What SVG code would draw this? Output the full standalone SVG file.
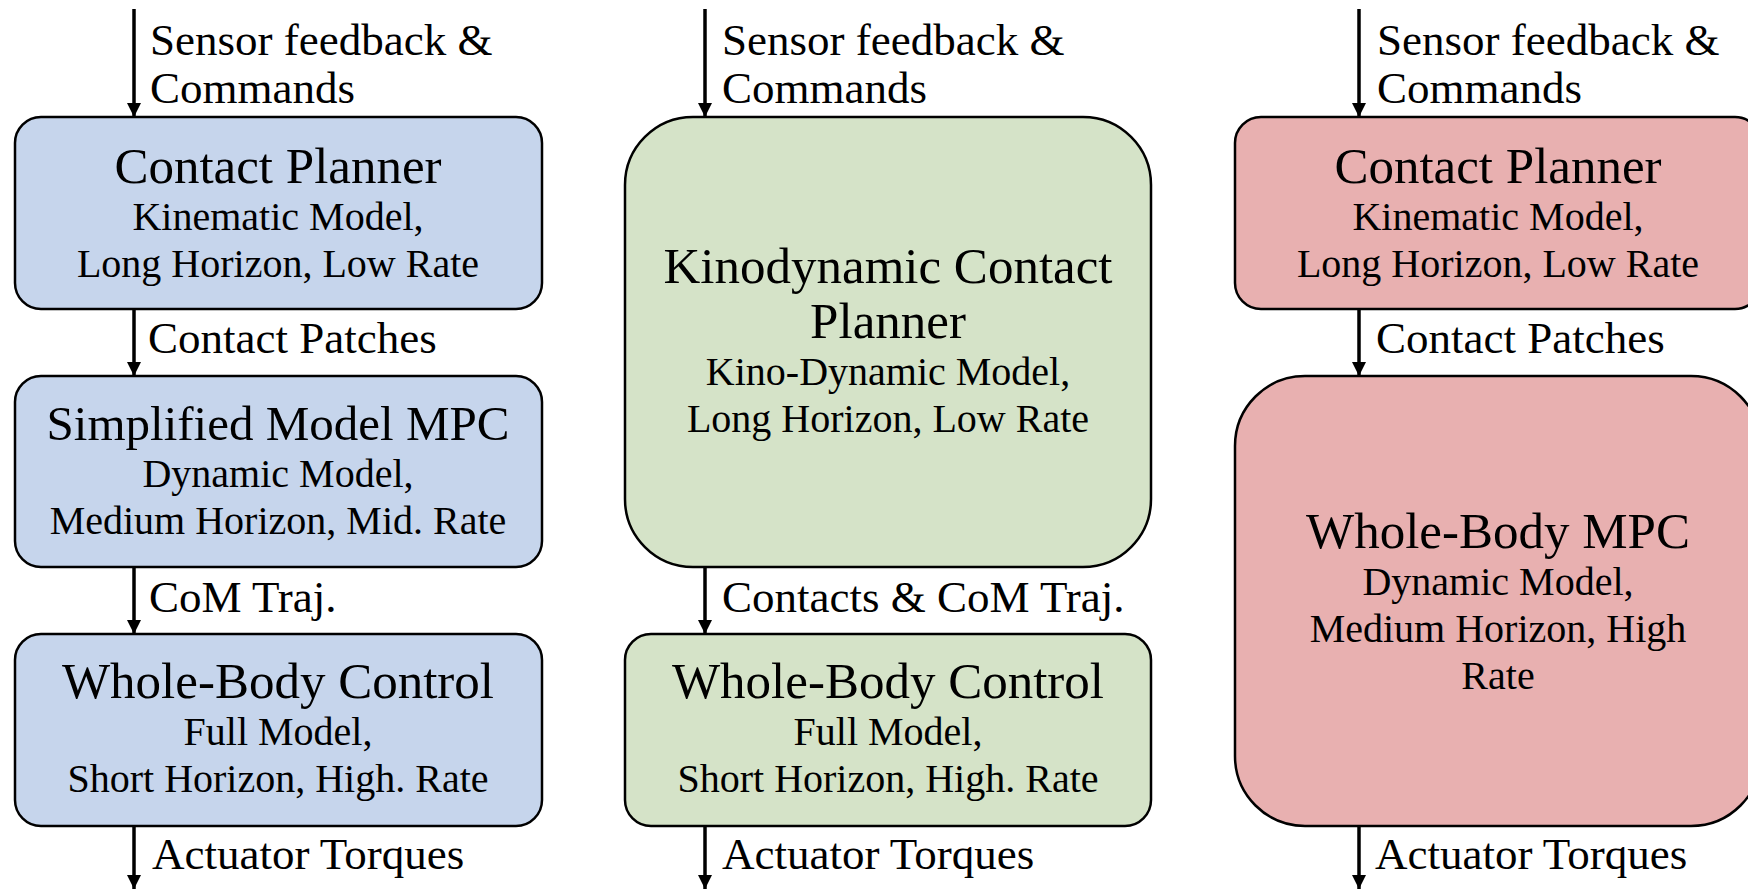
<svg xmlns="http://www.w3.org/2000/svg" width="1748" height="889" viewBox="0 0 1748 889">
<style>
text{font-family:"Liberation Serif","Times New Roman",serif;fill:#000}
.t{font-size:51px;text-anchor:middle}
.s{font-size:40px;text-anchor:middle}
.e{font-size:45px}
.box{stroke:#000;stroke-width:2.5}
.blue{fill:#c6d5ec}
.green{fill:#d5e3c8}
.red{fill:#e8b0b0}
.arr{stroke:#000;stroke-width:3.5;fill:none;marker-end:url(#ah)}
</style>
<defs>
<marker id="ah" markerUnits="userSpaceOnUse" markerWidth="16" markerHeight="16" refX="14" refY="7" orient="auto">
<path d="M0,0 L14,7 L0,14 Z" fill="#000"/>
</marker>
</defs>
<rect width="1748" height="889" fill="#fff"/>
<g id="connectors">
<line class="arr" x1="134" y1="9" x2="134" y2="117"/>
<line class="arr" x1="134" y1="309" x2="134" y2="376"/>
<line class="arr" x1="134" y1="567" x2="134" y2="634"/>
<line class="arr" x1="134" y1="826" x2="134" y2="889"/>
<line class="arr" x1="705" y1="9" x2="705" y2="117"/>
<line class="arr" x1="705" y1="567" x2="705" y2="634"/>
<line class="arr" x1="705" y1="826" x2="705" y2="889"/>
<line class="arr" x1="1359" y1="9" x2="1359" y2="117"/>
<line class="arr" x1="1359" y1="309" x2="1359" y2="376"/>
<line class="arr" x1="1359" y1="826" x2="1359" y2="889"/>
<text class="e" x="150" y="55">Sensor feedback &amp;</text>
<text class="e" x="150" y="103">Commands</text>
<text class="e" x="148" y="353">Contact Patches</text>
<text class="e" x="149" y="612">CoM Traj.</text>
<text class="e" x="152" y="869">Actuator Torques</text>
<text class="e" x="722" y="55">Sensor feedback &amp;</text>
<text class="e" x="722" y="103">Commands</text>
<text class="e" x="722" y="612">Contacts &amp; CoM Traj.</text>
<text class="e" x="722" y="869">Actuator Torques</text>
<text class="e" x="1377" y="55">Sensor feedback &amp;</text>
<text class="e" x="1377" y="103">Commands</text>
<text class="e" x="1376" y="353">Contact Patches</text>
<text class="e" x="1375" y="869">Actuator Torques</text>
</g>
<g id="a_contact_planner">
<rect class="box blue" x="15" y="117" width="527" height="192" rx="26"/>
<text class="t" x="278" y="183">Contact Planner</text>
<text class="s" x="278" y="230">Kinematic Model,</text>
<text class="s" x="278" y="277">Long Horizon, Low Rate</text>
</g>
<g id="a_simplified_mpc">
<rect class="box blue" x="15" y="376" width="527" height="191" rx="26"/>
<text class="t" x="278" y="440" style="font-size:49px">Simplified Model MPC</text>
<text class="s" x="278" y="487">Dynamic Model,</text>
<text class="s" x="278" y="534">Medium Horizon, Mid. Rate</text>
</g>
<g id="a_wbc">
<rect class="box blue" x="15" y="634" width="527" height="192" rx="26"/>
<text class="t" x="278" y="698">Whole-Body Control</text>
<text class="s" x="278" y="745">Full Model,</text>
<text class="s" x="278" y="792">Short Horizon, High. Rate</text>
</g>
<g id="b_kinodynamic_planner">
<rect class="box green" x="625" y="117" width="526" height="450" rx="68"/>
<text class="t" x="888" y="283">Kinodynamic Contact</text>
<text class="t" x="888" y="338">Planner</text>
<text class="s" x="888" y="385">Kino-Dynamic Model,</text>
<text class="s" x="888" y="432">Long Horizon, Low Rate</text>
</g>
<g id="b_wbc">
<rect class="box green" x="625" y="634" width="526" height="192" rx="26"/>
<text class="t" x="888" y="698">Whole-Body Control</text>
<text class="s" x="888" y="745">Full Model,</text>
<text class="s" x="888" y="792">Short Horizon, High. Rate</text>
</g>
<g id="c_contact_planner">
<rect class="box red" x="1235" y="117" width="526" height="192" rx="26"/>
<text class="t" x="1498" y="183">Contact Planner</text>
<text class="s" x="1498" y="230">Kinematic Model,</text>
<text class="s" x="1498" y="277">Long Horizon, Low Rate</text>
</g>
<g id="c_wb_mpc">
<rect class="box red" x="1235" y="376" width="526" height="450" rx="70"/>
<text class="t" x="1498" y="548">Whole-Body MPC</text>
<text class="s" x="1498" y="595">Dynamic Model,</text>
<text class="s" x="1498" y="642">Medium Horizon, High</text>
<text class="s" x="1498" y="689">Rate</text>
</g>
</svg>
